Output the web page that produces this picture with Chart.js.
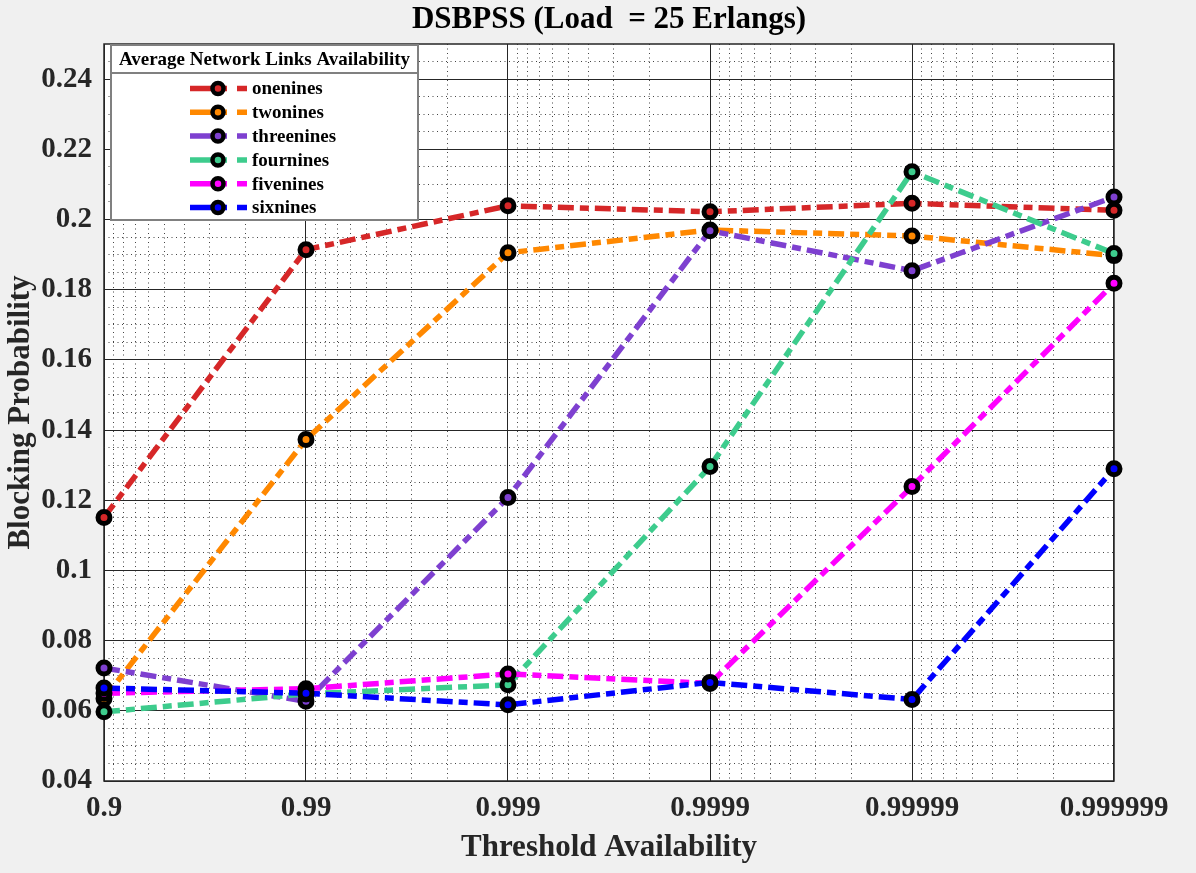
<!DOCTYPE html>
<html>
<head>
<meta charset="utf-8">
<title>DSBPSS</title>
<script src="https://cdn.jsdelivr.net/npm/chart.js@4.4.1/dist/chart.umd.min.js"></script>
<style>
  html, body { margin: 0; padding: 0; background: #f0f0f0; }
  #wrap { width: 1196px; height: 873px; position: relative; }
</style>
</head>
<body>
<div id="wrap"><canvas id="bpChart"></canvas></div>
<script>
// threshold availability (x categories) and their tick labels
const thresholds = [0.9, 0.99, 0.999, 0.9999, 0.99999, 0.999999];
const thresholdLabels = ["0.9", "0.99", "0.999", "0.9999", "0.99999", "0.999999"];

// blocking probability per average link availability
const onenines   = [0.1151, 0.1914, 0.2039, 0.2022, 0.2046, 0.2026];
const twonines   = [0.0635, 0.1373, 0.1905, 0.1970, 0.1953, 0.1897];
const threenines = [0.0722, 0.0627, 0.1208, 0.1968, 0.1854, 0.2064];
const fournines  = [0.0597, 0.0648, 0.0674, 0.1296, 0.2136, 0.1903];
const fivenines  = [0.0650, 0.0663, 0.0705, 0.0678, 0.1239, 0.1818];
const sixnines   = [0.0665, 0.0650, 0.0617, 0.0681, 0.0632, 0.1290];

const seriesNames = ["onenines", "twonines", "threenines", "fournines", "fivenines", "sixnines"];
const seriesValues = [onenines, twonines, threenines, fournines, fivenines, sixnines];
const seriesColors = ["#d62728", "#ff8800", "#7e40d0", "#3dcc8d", "#ff00ff", "#0000ff"];

const yTicks = [0.04, 0.06, 0.08, 0.1, 0.12, 0.14, 0.16, 0.18, 0.2, 0.22, 0.24];

const SERIF = "'Liberation Serif', 'Times New Roman', serif";
const DASH = [16, 6, 9, 6];

// x position on the plot: decades of unavailability
const xPos = (a) => -Math.log10(1 - a);

// minor grid positions (log decades) and y minor steps
const xMinor = [];
for (let n = 1; n < 6; n++) {
  for (let k = 9; k >= 2; k--) xMinor.push(n + 1 - Math.log10(k));
}
const yMinor = [];
for (let i = 0; i < 42; i++) {
  const v = +(0.04 + i * 0.005).toFixed(3);
  if (i % 4 !== 0) yMinor.push(v);
}

const datasets = seriesNames.map((name, i) => ({
  label: name,
  data: seriesValues[i].map((v, j) => ({ x: xPos(thresholds[j]), y: v })),
  borderColor: seriesColors[i],
  backgroundColor: seriesColors[i],
  borderWidth: 5.5,
  borderDash: DASH,
  pointRadius: 6,
  pointBorderWidth: 5,
  pointBorderColor: "#000",
  pointBackgroundColor: seriesColors[i],
  clip: false,
  order: seriesNames.length - i,
}));

const frame = {
  id: "frame",
  beforeDraw(chart) {
    const { ctx, chartArea: a } = chart;
    ctx.save();
    ctx.fillStyle = "#f0f0f0";
    ctx.fillRect(0, 0, chart.width, chart.height);
    ctx.fillStyle = "#fff";
    ctx.fillRect(a.left, a.top, a.right - a.left, a.bottom - a.top);
    ctx.restore();
  },
  beforeDatasetsDraw(chart) {
    const { ctx, chartArea: a } = chart;
    ctx.save();
    ctx.strokeStyle = "#262626";
    ctx.lineWidth = 1.5;
    ctx.strokeRect(a.left, a.top, a.right - a.left, a.bottom - a.top);
    ctx.restore();
  },
  afterDraw(chart) {
    const { ctx, chartArea: a } = chart;
    ctx.save();
    // title
    ctx.fillStyle = "#000";
    ctx.font = "bold 31px " + SERIF;
    ctx.textAlign = "center";
    ctx.textBaseline = "middle";
    ctx.fillText("DSBPSS (Load  = 25 Erlangs)", (a.left + a.right) / 2, 20);

    // legend box
    const bx = 111, by = 45, bw = 307, bh = 175;
    ctx.fillStyle = "#fff";
    ctx.fillRect(bx, by, bw, bh);
    ctx.strokeStyle = "#808080";
    ctx.lineWidth = 2;
    ctx.strokeRect(bx, by, bw, bh);
    ctx.beginPath();
    ctx.moveTo(bx, by + 28);
    ctx.lineTo(bx + bw, by + 28);
    ctx.stroke();
    ctx.fillStyle = "#000";
    ctx.font = "bold 19px " + SERIF;
    ctx.fillText("Average Network Links Availability", bx + bw / 2, by + 15);

    ctx.textAlign = "left";
    chart.data.datasets.forEach((ds, i) => {
      const y = 88.5 + i * 23.8;
      ctx.strokeStyle = ds.borderColor;
      ctx.lineWidth = 5.5;
      ctx.setLineDash([]);
      ctx.beginPath();
      ctx.moveTo(190, y);
      ctx.lineTo(227, y);
      ctx.moveTo(237, y);
      ctx.lineTo(247, y);
      ctx.stroke();
      ctx.beginPath();
      ctx.arc(218, y, 5.5, 0, Math.PI * 2);
      ctx.fillStyle = ds.pointBackgroundColor;
      ctx.fill();
      ctx.lineWidth = 4.5;
      ctx.strokeStyle = "#000";
      ctx.stroke();
      ctx.fillStyle = "#000";
      ctx.font = "bold 19px " + SERIF;
      ctx.fillText(ds.label, 252, y + 1);
    });
    ctx.restore();
  },
};

const ctx = document.getElementById("bpChart").getContext("2d");
new Chart(ctx, {
  type: "line",
  data: { datasets },
  options: {
    responsive: true,
    maintainAspectRatio: false,
    animation: false,
    layout: { padding: { top: 44, right: 82, left: 0, bottom: 0 } },
    plugins: {
      legend: { display: false },
      title: { display: false },
      tooltip: { enabled: false },
    },
    scales: {
      x: {
        type: "linear",
        min: 1,
        max: 6,
        afterBuildTicks: (axis) => { axis.ticks = thresholds.map((a) => ({ value: xPos(a) })); },
        afterFit: (axis) => { axis.height = 92; },
        ticks: {
          autoSkip: false,
          maxRotation: 0,
          padding: 10,
          color: "#262626",
          font: { family: SERIF, size: 29, weight: "bold" },
          callback: (v, i) => thresholdLabels[i],
        },
        grid: { color: "#262626", lineWidth: 1, drawTicks: false },
        border: { display: false },
        title: {
          display: true,
          text: "Threshold Availability",
          color: "#262626",
          font: { family: SERIF, size: 31, weight: "bold" },
          padding: { top: 0, bottom: 6 },
        },
      },
      xm: {
        type: "linear",
        position: "bottom",
        min: 1,
        max: 6,
        afterBuildTicks: (axis) => { axis.ticks = xMinor.map((v) => ({ value: v })); },
        afterFit: (axis) => { axis.height = 0; },
        ticks: { display: false, autoSkip: false },
        grid: { color: "#444", lineWidth: 1, drawTicks: false },
        border: { display: false, dash: [1, 3.5] },
      },
      y: {
        type: "linear",
        min: 0.04,
        max: 0.25,
        afterBuildTicks: (axis) => { axis.ticks = yTicks.map((v) => ({ value: v })); },
        afterFit: (axis) => { axis.width = 104; },
        ticks: {
          autoSkip: false,
          padding: 12,
          color: "#262626",
          font: { family: SERIF, size: 29, weight: "bold" },
          callback: (v) => String(+v.toFixed(2)),
        },
        grid: { color: "#262626", lineWidth: 1, drawTicks: false },
        border: { display: false },
        title: {
          display: true,
          text: "Blocking Probability",
          color: "#262626",
          font: { family: SERIF, size: 31, weight: "bold" },
          padding: { top: 2, bottom: 0 },
        },
      },
      ym: {
        type: "linear",
        position: "left",
        min: 0.04,
        max: 0.25,
        afterBuildTicks: (axis) => { axis.ticks = yMinor.map((v) => ({ value: v })); },
        afterFit: (axis) => { axis.width = 0; },
        ticks: { display: false, autoSkip: false },
        grid: { color: "#444", lineWidth: 1, drawTicks: false },
        border: { display: false, dash: [1, 3.5] },
      },
    },
  },
  plugins: [frame],
});
</script>
</body>
</html>
